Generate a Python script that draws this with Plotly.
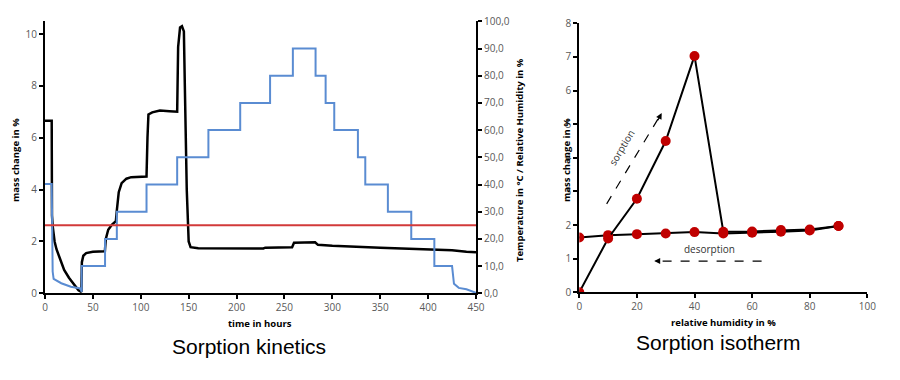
import plotly.graph_objects as go

# ---------------- Sorption kinetics data ----------------
time_mass = [0, 7, 7.3, 8, 10, 12, 15, 20, 25, 30, 35, 38, 38.5, 40, 43, 50, 62.5, 63.5, 66, 70, 74,
             75, 77, 80, 85, 90, 106, 107, 108, 112, 120, 130, 138, 139, 141, 143, 145, 146, 148, 150,
             152, 160, 200, 228, 230, 258, 260, 282, 285, 300, 350, 400, 425, 440, 450]
mass_change = [6.65, 6.65, 3.0, 2.6, 2.0, 1.7, 1.4, 0.9, 0.6, 0.35, 0.12, 0.05, 1.2, 1.45, 1.55, 1.6, 1.62, 2.1, 2.45, 2.65, 2.78,
               3.2, 3.9, 4.25, 4.42, 4.48, 4.5, 6.0, 6.9, 6.98, 7.05, 7.02, 7.0, 9.5, 10.25, 10.3, 10.1, 8.0, 4.0, 2.0,
               1.78, 1.74, 1.72, 1.73, 1.76, 1.78, 1.95, 1.97, 1.87, 1.83, 1.76, 1.7, 1.66, 1.6, 1.58]

time_rh = [0, 7, 8, 9, 17, 27, 37, 38.3, 38.3, 62.7, 62.7, 75, 75, 106, 106, 138, 138, 170.6, 170.6,
           203.8, 203.8, 235, 235, 258.8, 258.8, 282.5, 282.5, 293, 293, 302, 302, 326.7, 326.7, 334.4,
           334.4, 358, 358, 382.4, 382.4, 406.5, 406.5, 425, 427, 432, 440, 450]
rel_humidity = [40.2, 40.2, 8, 5.3, 3.7, 2.4, 1.8, 0.5, 10, 10, 20, 20, 30, 30, 40, 40, 50, 50, 60,
                60, 70, 70, 80, 80, 90, 90, 80, 80, 70, 70, 60, 60, 50, 50,
                40, 40, 30, 30, 20, 20, 10, 10, 3.5, 2, 1.5, 0.2]

time_temp = [0, 450]
temperature = [25, 25]

left_x_ticks = [0, 50, 100, 150, 200, 250, 300, 350, 400, 450]
left_y_ticks = [0, 2, 4, 6, 8, 10]
right_y_ticks = [0, 10, 20, 30, 40, 50, 60, 70, 80, 90, 100]

# ---------------- Sorption isotherm data ----------------
sorp_rh = [0, 10, 20, 30, 40, 50, 60, 70, 80, 90]
sorp_mass = [0, 1.6, 2.78, 4.5, 7.03, 1.8, 1.81, 1.85, 1.87, 1.97]
desorp_rh = [90, 80, 70, 60, 50, 40, 30, 20, 10, 0]
desorp_mass = [1.97, 1.84, 1.8, 1.77, 1.75, 1.79, 1.75, 1.73, 1.7, 1.63]

iso_x_ticks = [0, 20, 40, 60, 80, 100]
iso_y_ticks = [0, 1, 2, 3, 4, 5, 6, 7, 8]

# page body has an 8px margin: figure is 884x364 so the page is exactly 900x380
OFF = 8
W, H = 900 - 2 * OFF, 380 - 2 * OFF
def px_x(p):
    return (p - OFF) / W
def px_y(p):
    return 1 - (p - OFF) / H

BLACK = "#000000"
BLUE = "#5a8cd2"
RED = "#d23a3a"
MARK = "#c00000"
TICKFONT = dict(family="Open Sans, Liberation Sans, sans-serif", size=10, color="#595959")
TITLEFONT = dict(family="Open Sans, Liberation Sans, sans-serif", size=9.5, color="#000000")

fig = go.Figure()

fig.add_trace(go.Scatter(x=time_rh, y=rel_humidity, mode="lines", line=dict(color=BLUE, width=2),
                         xaxis="x", yaxis="y2", showlegend=False))
fig.add_trace(go.Scatter(x=time_temp, y=temperature, mode="lines", line=dict(color=RED, width=2),
                         xaxis="x", yaxis="y2", showlegend=False))
fig.add_trace(go.Scatter(x=time_mass, y=mass_change, mode="lines", line=dict(color=BLACK, width=2.5),
                         xaxis="x", yaxis="y", showlegend=False))

# isotherm
fig.add_trace(go.Scatter(x=desorp_rh, y=desorp_mass, mode="lines+markers",
                         line=dict(color=BLACK, width=2), marker=dict(color=MARK, size=10),
                         xaxis="x2", yaxis="y3", showlegend=False))
fig.add_trace(go.Scatter(x=sorp_rh, y=sorp_mass, mode="lines+markers",
                         line=dict(color=BLACK, width=2), marker=dict(color=MARK, size=10),
                         xaxis="x2", yaxis="y3", showlegend=False))

# dashed guide arrows (shafts)
fig.add_trace(go.Scatter(x=[9.5, 28.0], y=[2.63, 5.25], mode="lines",
                         line=dict(color=BLACK, width=1.2, dash="dash"),
                         xaxis="x2", yaxis="y3", showlegend=False, hoverinfo="skip"))
fig.add_trace(go.Scatter(x=[63.3, 27.0], y=[0.93, 0.93], mode="lines",
                         line=dict(color=BLACK, width=1.2, dash="dash"),
                         xaxis="x2", yaxis="y3", showlegend=False, hoverinfo="skip"))

axis_common = dict(showline=True, linecolor=BLACK, linewidth=2, ticks="outside", ticklen=4,
                   tickwidth=1.5, tickcolor=BLACK, showgrid=False, zeroline=False,
                   tickfont=TICKFONT, automargin=False)

fig.update_layout(
    width=W, height=H, margin=dict(l=0, r=0, t=0, b=0, pad=0, autoexpand=False),
    paper_bgcolor="white", plot_bgcolor="white",
    separators=",.",
    xaxis=dict(domain=[px_x(45), px_x(476)], range=[0, 450], tickvals=left_x_ticks,
               anchor="y", **axis_common),
    yaxis=dict(domain=[px_y(293.3), px_y(21.3)], range=[0, 10.49], tickvals=left_y_ticks,
               anchor="x", **axis_common),
    yaxis2=dict(domain=[px_y(293.3), px_y(21.3)], range=[0, 100], tickvals=right_y_ticks,
                tickformat=".1f", overlaying="y", side="right", anchor="x", **axis_common),
    xaxis2=dict(domain=[px_x(579.3), px_x(867.3)], range=[0, 100], tickvals=iso_x_ticks,
                anchor="y3", **axis_common),
    yaxis3=dict(domain=[px_y(292.3), px_y(23.3)], range=[0, 8], tickvals=iso_y_ticks,
                anchor="x2", **axis_common),
)

ann = []
def paper_text(x, y, text, size=None, bold=True, angle=0, family=None, color="#000000"):
    ann.append(dict(xref="paper", yref="paper", x=px_x(x), y=px_y(y), text=("<b>%s</b>" % text) if bold else text,
                    showarrow=False, textangle=angle, xanchor="center", yanchor="middle",
                    font=dict(family=family or TITLEFONT["family"], size=size or TITLEFONT["size"], color=color)))

paper_text(260, 323, "time in hours")
paper_text(15, 160, "mass change in %", angle=-90)
paper_text(519, 160, "Temperature in °C / Relative Humidity in %", angle=-90)
paper_text(723, 322, "relative humidity in %")
paper_text(566, 160, "mass change in %", angle=-90)
paper_text(249, 346, "Sorption kinetics", size=21, bold=False, family="Liberation Sans, Arial, sans-serif")
paper_text(718, 342, "Sorption isotherm", size=21, bold=False, family="Liberation Sans, Arial, sans-serif")

# text labels in isotherm
ann.append(dict(xref="x2", yref="y3", x=14.5, y=4.3, text="sorption", showarrow=False, textangle=-59,
                font=dict(family="Open Sans, sans-serif", size=10, color="#333333")))
ann.append(dict(xref="x2", yref="y3", x=45.1, y=1.3, text="desorption", showarrow=False,
                font=dict(family="Open Sans, sans-serif", size=10, color="#333333")))
# arrowheads
ann.append(dict(xref="x2", yref="y3", axref="x2", ayref="y3", x=28.6, y=5.33, ax=27.0, ay=5.07,
                text="", showarrow=True, arrowhead=2, arrowsize=1, arrowwidth=1.2, arrowcolor=BLACK))
ann.append(dict(xref="x2", yref="y3", axref="x2", ayref="y3", x=26.0, y=0.93, ax=28.5, ay=0.93,
                text="", showarrow=True, arrowhead=2, arrowsize=1, arrowwidth=1.2, arrowcolor=BLACK))

fig.update_layout(annotations=ann)
fig.write_html("out.html")
